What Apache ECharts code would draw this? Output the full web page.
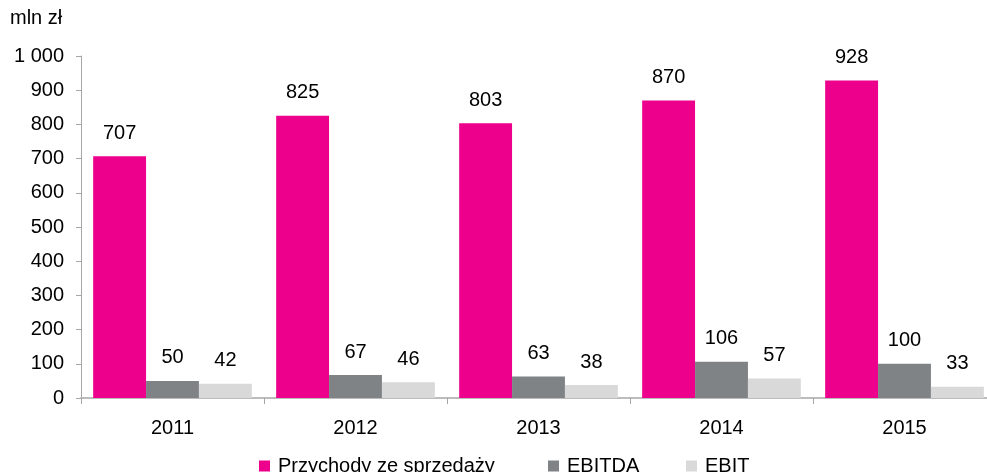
<!DOCTYPE html>
<html><head><meta charset="utf-8">
<script src="https://cdn.jsdelivr.net/npm/echarts@6/dist/echarts.min.js"></script>
<style>html,body{margin:0;padding:0;background:#fff;overflow:hidden}#c{width:1000px;height:472px}</style>
</head><body><div id="c"></div>
<script>
const categories = ['2011','2012','2013','2014','2015'];
const seriesNames = ['Przychody ze sprzedaży','EBITDA','EBIT'];
const przychody = [707, 825, 803, 870, 928];
const ebitda = [50, 67, 63, 106, 100];
const ebit = [42, 46, 38, 57, 33];
const yTicks = [0,100,200,300,400,500,600,700,800,900,1000];
const colors = ['#EC008C', '#7F8385', '#D9D9D9'];
const font = 'Liberation Sans, Arial, sans-serif';

const chart = echarts.init(document.getElementById('c'), null, {renderer:'canvas'});
const lbl = {show:true, position:'top', distance:13, color:'#000', fontSize:20, fontFamily:font};
const mk = (name, data, color) => ({name, type:'bar', data, itemStyle:{color}, label:lbl, barGap:'0%', barCategoryGap:'13.3%'});
const legendLefts = [259, 548, 686];
const legends = seriesNames.map((n, i) => ({
  left: legendLefts[i], top: 456, padding: 0, itemWidth: 11, itemHeight: 11, icon: 'rect',
  textStyle: {fontSize: 20, color: '#000', fontFamily: font, padding: [0,0,0,3]},
  data: [n]
}));
chart.setOption({
  animation:false,
  textStyle:{fontFamily:font},
  title:{text:'mln zł', left:5, top:3, textStyle:{fontSize:20, fontWeight:'normal', color:'#000', fontFamily:font}},
  grid:{left:81, top:56, bottom:74, width:915},
  legend: legends,
  xAxis:{type:'category', data:categories,
    axisLine:{lineStyle:{color:'#A6A6A6', width:1.5}},
    axisTick:{show:true, length:6, lineStyle:{color:'#A6A6A6'}},
    axisLabel:{color:'#000', fontSize:20, margin:20, fontFamily:font}},
  yAxis:{type:'value', min:0, max:1000, interval:100,
    axisLine:{show:true, lineStyle:{color:'#A6A6A6', width:1}},
    axisTick:{show:true, length:5, lineStyle:{color:'#A6A6A6'}},
    splitLine:{show:false},
    axisLabel:{color:'#000', fontSize:20, margin:17, fontFamily:font,
      formatter:v => yTicks.includes(v) ? String(v).replace(/\B(?=(\d{3})+(?!\d))/g,' ') : ''}},
  series:[mk(seriesNames[0], przychody, colors[0]), mk(seriesNames[1], ebitda, colors[1]), mk(seriesNames[2], ebit, colors[2])]
});
</script></body></html>
